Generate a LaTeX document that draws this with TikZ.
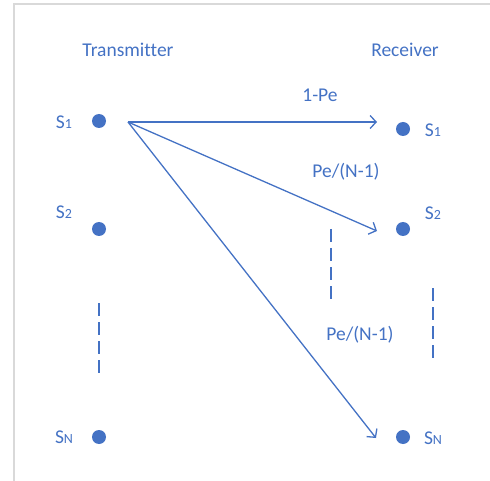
\documentclass[tikz,border=0pt]{standalone}
\usepackage{fontspec}
\setmainfont{Carlito}[Ligatures=NoCommon]
\usetikzlibrary{arrows.meta}
\definecolor{oblue}{RGB}{68,114,196}
\definecolor{frame}{RGB}{217,217,217}
\tikzset{
  dot/.style={circle,fill=oblue,draw=none,minimum size=14pt,inner sep=0pt},
  lbl/.style={text=oblue,font=\fontsize{19.5}{21}\selectfont,inner sep=0pt},
  conn/.style={draw=oblue,line width=1.3pt,-{Straight Barb[length=6pt,width=13pt,line width=1.3pt]}},
  vdash/.style={draw=oblue,line width=1.8pt,dash pattern=on 13pt off 6pt}
}
\newcommand{\sub}[1]{{\fontsize{14}{15}\selectfont #1}}
\begin{document}
\begin{tikzpicture}[x=1pt,y=-1pt]
\useasboundingbox (0,0) rectangle (490,481);
\draw[frame,line width=1.5pt] (14,481) -- (14,4) -- (490,4);
% headings
\node[lbl] (tx) at (128,50) {Transmitter};
\node[lbl] (rx) at (405,50) {Receiver};
% transmitter dots
\node[dot] (t1) at (99,121) {};
\node[dot] (t2) at (99,229) {};
\node[dot] (tn) at (99,437) {};
\node[lbl] (lt1) at (64,122) {S\sub{1}};
\node[lbl] (lt2) at (64,212) {S\sub{2}};
\node[lbl] (ltn) at (64,437) {S\sub{N}};
% receiver dots
\node[dot] (r1) at (403,129) {};
\node[dot] (r2) at (403,229) {};
\node[dot] (rn) at (403,437) {};
\node[lbl] (lr1) at (433,130) {S\sub{1}};
\node[lbl] (lr2) at (433,213) {S\sub{2}};
\node[lbl] (lrn) at (433,438) {S\sub{N}};
% arrows
\coordinate (src) at (128,122);
\coordinate (e1) at (377,122);
\coordinate (e2) at (377,231);
\coordinate (e3) at (376,438);
\draw[conn] (src) -- (e1);
\draw[conn] (src) -- (e2);
\draw[conn] (src) -- (e3);
\node[lbl] (p1) at (320,95) {1-Pe};
\node[lbl] (p2) at (346,172) {Pe/(N-1)};
\node[lbl] (p3) at (360,335) {Pe/(N-1)};
% dashed lines
\coordinate (d1a) at (99,303); \coordinate (d1b) at (99,374);
\coordinate (d2a) at (331,229); \coordinate (d2b) at (331,300);
\coordinate (d3a) at (433,288); \coordinate (d3b) at (433,359);
\draw[vdash] (d1a) -- (d1b);
\draw[vdash] (d2a) -- (d2b);
\draw[vdash] (d3a) -- (d3b);
\end{tikzpicture}
\end{document}
